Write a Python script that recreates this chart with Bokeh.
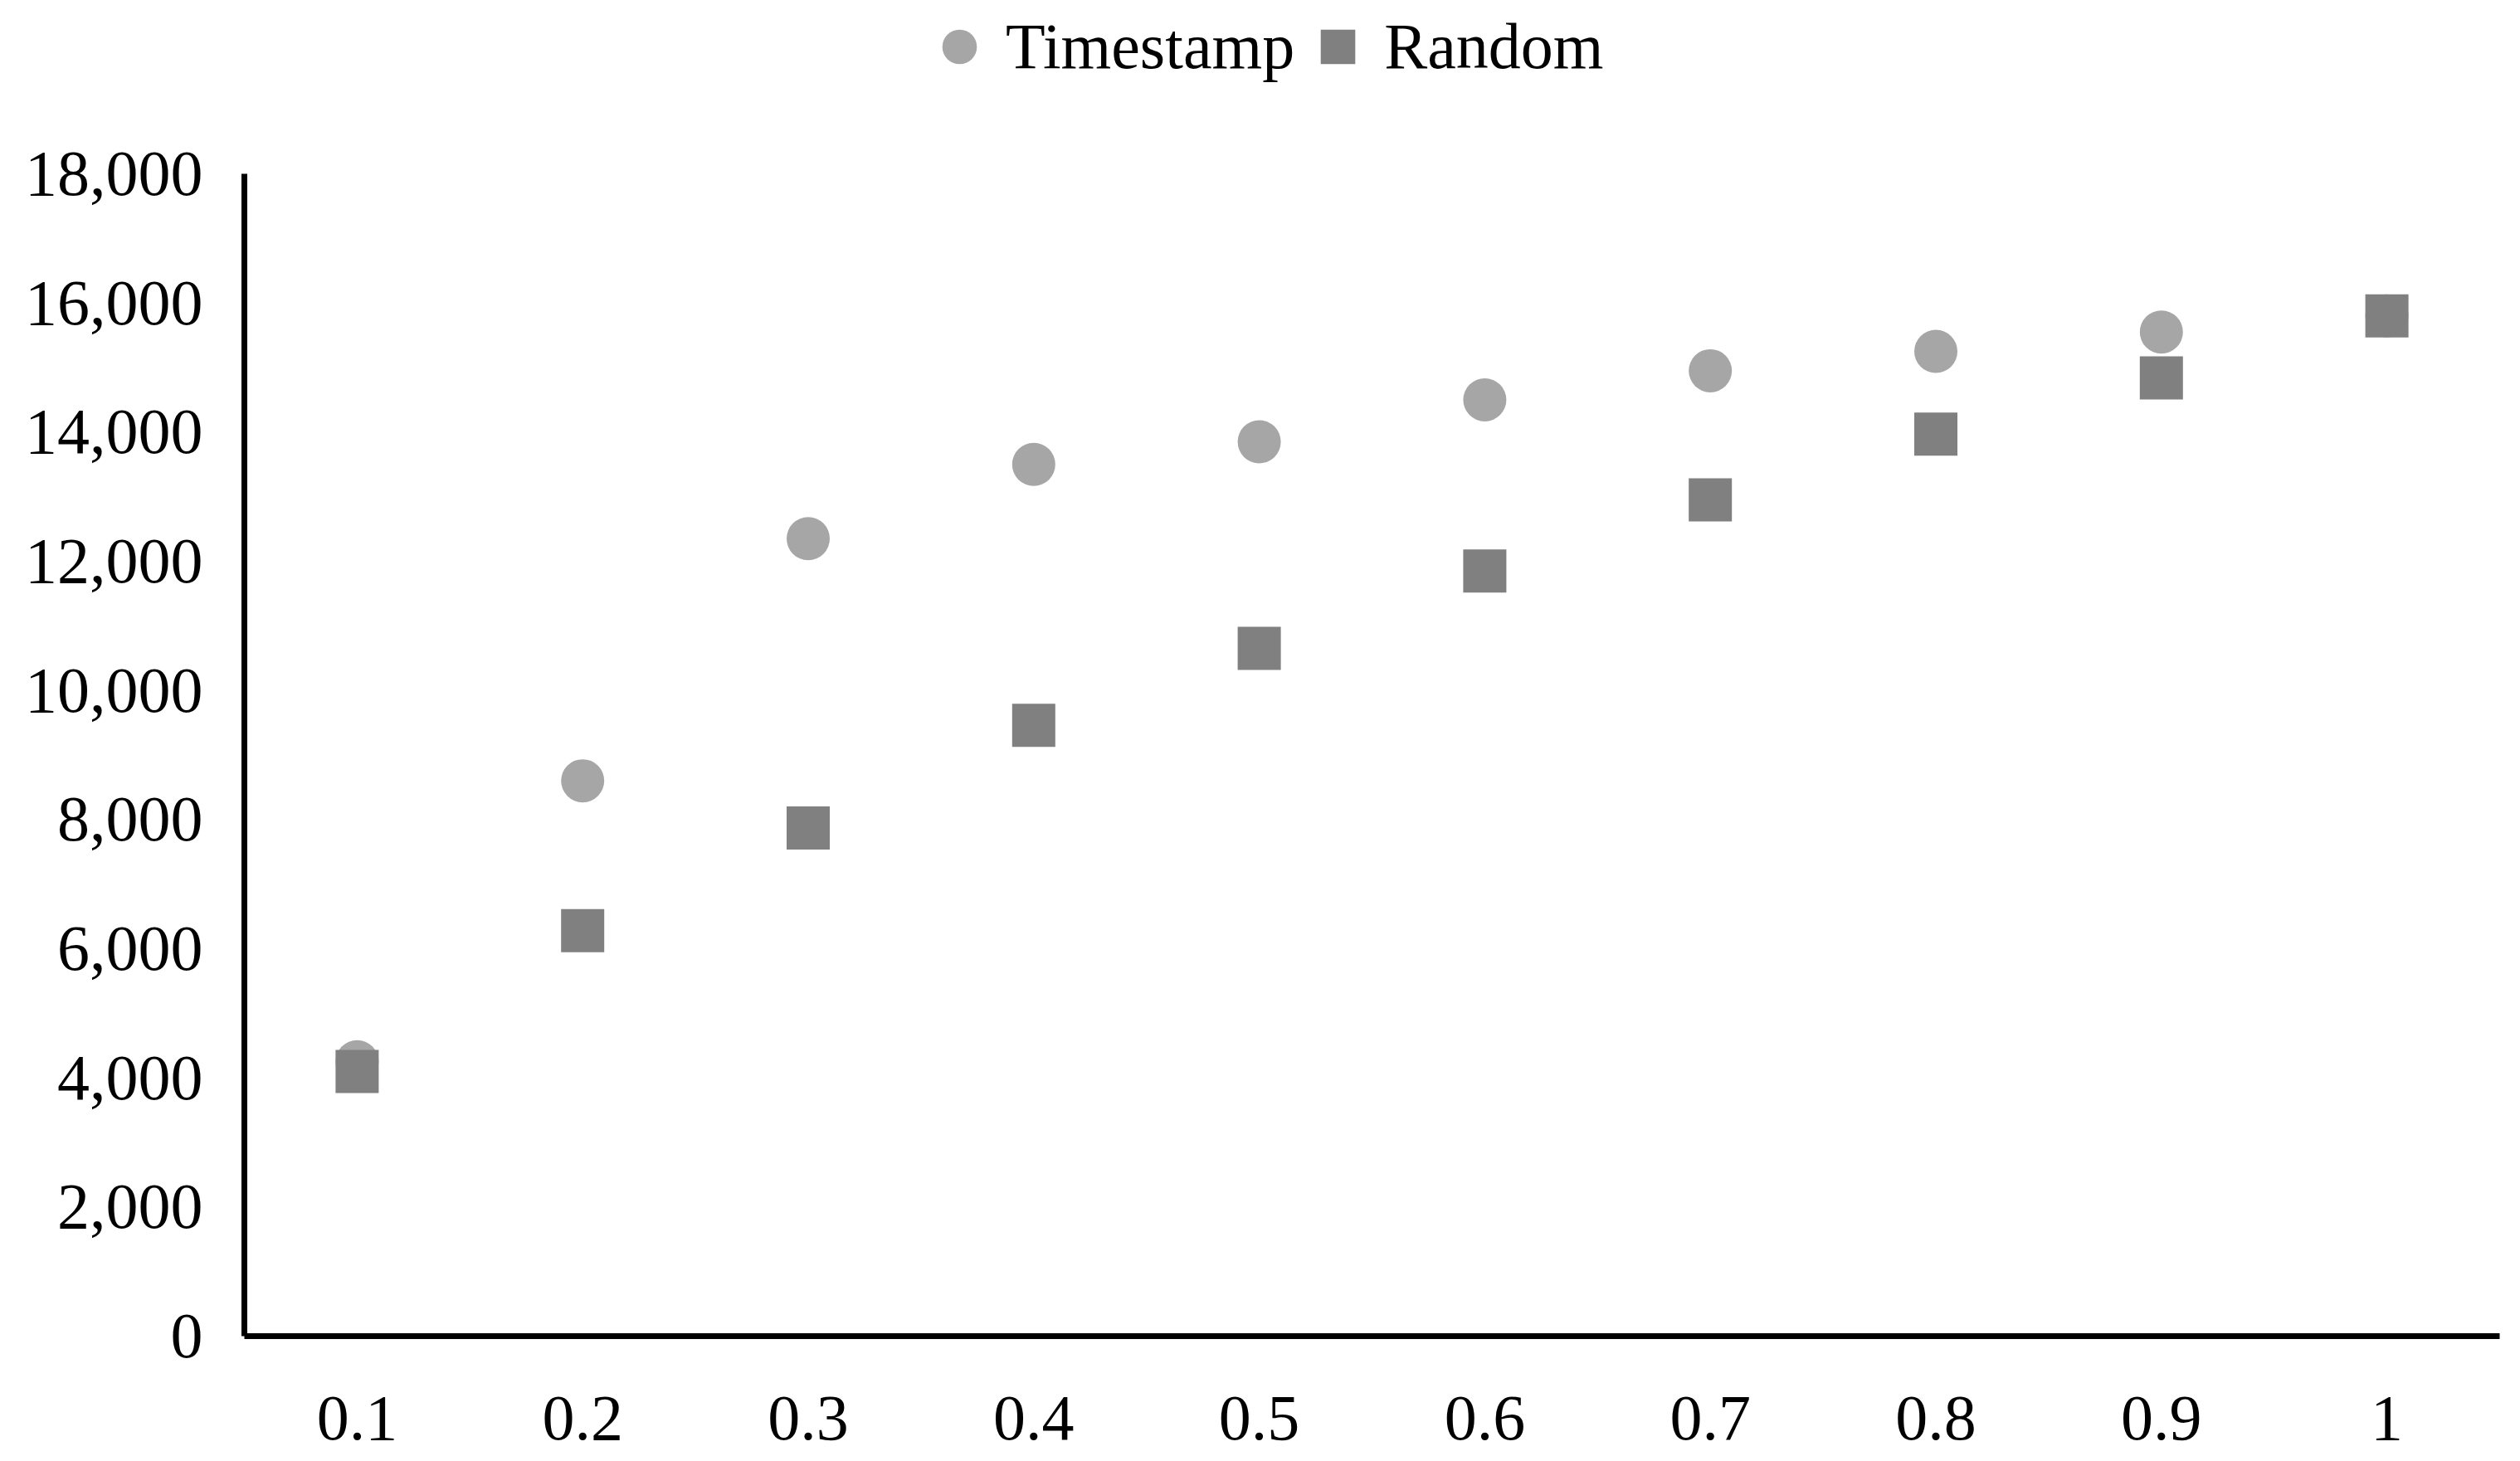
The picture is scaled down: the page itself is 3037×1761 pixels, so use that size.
from bokeh.plotting import figure
from bokeh.layouts import column
from bokeh.models import (ColumnDataSource, FactorRange, Range1d, SingleIntervalTicker,
                          NumeralTickFormatter, Legend, LegendItem)
from bokeh.embed import file_html
from bokeh.resources import INLINE

categories = ["0.1", "0.2", "0.3", "0.4", "0.5", "0.6", "0.7", "0.8", "0.9", "1"]
timestamp = [4250, 8600, 12350, 13500, 13850, 14500, 14950, 15250, 15550, 15800]
random_vals = [4100, 6280, 7870, 9460, 10650, 11850, 12950, 13970, 14840, 15800]
series_names = ["Timestamp", "Random"]

FONT = "Liberation Serif"
FS = "78px"
C_TS = "#A6A6A6"
C_RND = "#808080"

src = ColumnDataSource(dict(x=categories, ts=timestamp, rnd=random_vals))

# ---- main chart ----
p = figure(width=3029, height=1637, output_backend="svg", toolbar_location=None,
           x_range=FactorRange(factors=categories, range_padding=0),
           y_range=Range1d(0, 18000),
           min_border_left=294, min_border_right=17, min_border_top=93, min_border_bottom=143)
p.outline_line_color = None
p.background_fill_color = "white"
p.border_fill_color = "white"
p.xgrid.grid_line_color = None
p.ygrid.grid_line_color = None

p.scatter("x", "ts", source=src, marker="circle", size=52, fill_color=C_TS, line_color=None)
p.scatter("x", "rnd", source=src, marker="square", size=52, fill_color=C_RND, line_color=None)

p.yaxis.ticker = SingleIntervalTicker(interval=2000)
p.yaxis.formatter = NumeralTickFormatter(format="0,0")
for ax in (p.xaxis[0], p.yaxis[0]):
    ax.axis_line_color = "black"
    ax.axis_line_width = 7
    ax.major_tick_line_color = None
    ax.minor_tick_line_color = None
    ax.major_tick_out = 0
    ax.major_tick_in = 0
    ax.minor_tick_out = 0
    ax.major_label_text_font = FONT
    ax.major_label_text_font_size = FS
    ax.major_label_text_color = "black"
p.yaxis.major_label_standoff = 50
p.xaxis.major_label_standoff = 73

# ---- legend strip above the chart (its data lies outside its visible range) ----
lf = figure(width=3029, height=116, output_backend="svg", toolbar_location=None,
            x_range=FactorRange(factors=categories, range_padding=0),
            y_range=Range1d(-2, -1), min_border=0)
lf.outline_line_color = None
lf.axis.visible = False
lf.grid.visible = False
l1 = lf.scatter("x", "ts", source=src, marker="circle", size=52, fill_color=C_TS, line_color=None)
l2 = lf.scatter("x", "rnd", source=src, marker="square", size=52, fill_color=C_RND, line_color=None)

legend = Legend(items=[LegendItem(label=series_names[0], renderers=[l1]),
                       LegendItem(label=series_names[1], renderers=[l2])],
                orientation="horizontal", location=(810, 8),
                glyph_width=104, glyph_height=104, label_standoff=4, spacing=0,
                padding=0, margin=0, border_line_color=None, background_fill_alpha=0,
                label_text_font=FONT, label_text_font_size=FS, label_text_color="black")
lf.add_layout(legend, "center")

layout = column(lf, p, spacing=0)
open("out.html", "w").write(file_html(layout, INLINE))
